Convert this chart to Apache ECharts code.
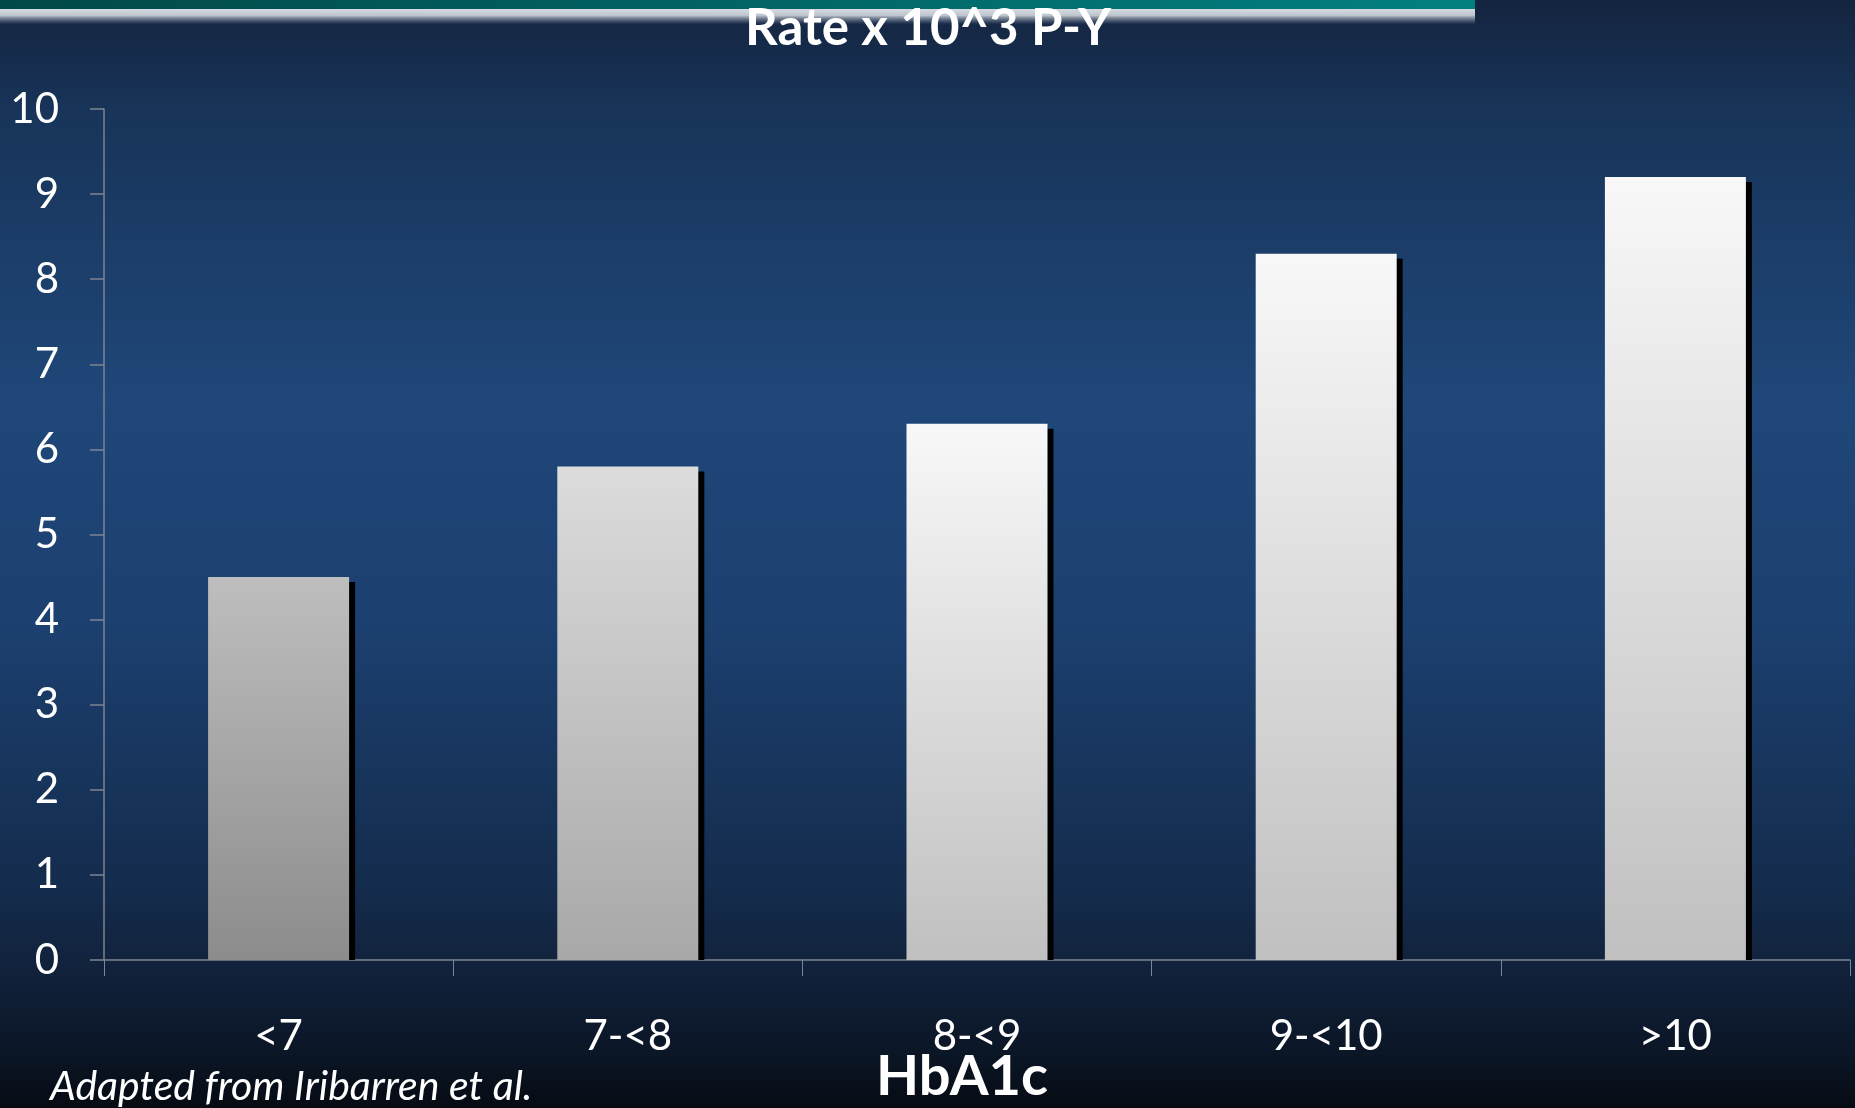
<!DOCTYPE html>
<html>
<head>
<meta charset="utf-8">
<title>Rate x 10^3 P-Y by HbA1c</title>
<script src="https://cdn.jsdelivr.net/npm/echarts@6/dist/echarts.min.js"></script>
<style>
  html, body { margin: 0; padding: 0; width: 100%; height: 100%; overflow: hidden; background: #0b1422; }
  #chart { width: 1855px; height: 1108px; }
</style>
</head>
<body>
<div id="chart"></div>
<script>
// HbA1c bands and event rate per 1000 person-years
const categories = ['<7', '7-<8', '8-<9', '9-<10', '>10'];
const rates = [4.5, 5.8, 6.3, 8.3, 9.2];
const yTicks = [0, 1, 2, 3, 4, 5, 6, 7, 8, 9, 10];

const titleText = 'Rate x 10^3 P-Y';
const axisTitleText = 'HbA1c';
const sourceText = 'Adapted from Iribarren et al.';

// per-bar fill: lighter top, darker bottom
const barTops = ['#bebebe', '#dcdcdc', '#f8f8f8', '#f8f8f8', '#f8f8f8'];
const barBottoms = ['#8c8c8c', '#a8a8a8', '#c0c0c0', '#c0c0c0', '#c0c0c0'];

const FONT = 'Lato, "Open Sans", sans-serif';
const AXIS_COLOR = '#7d8591';
const BAR_WIDTH = 141;

const chart = echarts.init(document.getElementById('chart'), null, { renderer: 'canvas' });

const barData = rates.map((v, i) => ({
  value: v,
  itemStyle: {
    color: new echarts.graphic.LinearGradient(0, 0, 0, 1, [
      { offset: 0, color: barTops[i] },
      { offset: 1, color: barBottoms[i] }
    ])
  }
}));

const option = {
  backgroundColor: new echarts.graphic.LinearGradient(0, 0, 0, 1, [
    { offset: 0.00, color: '#14243f' },
    { offset: 0.10, color: '#183459' },
    { offset: 0.36, color: '#1f4779' },
    { offset: 0.56, color: '#1c4070' },
    { offset: 0.80, color: '#142c4d' },
    { offset: 0.88, color: '#11213a' },
    { offset: 0.95, color: '#0b1626' },
    { offset: 1.00, color: '#060b13' }
  ]),
  animation: false,
  grid: { left: 104, right: 5, top: 109, bottom: 148, containLabel: false },
  xAxis: {
    type: 'category',
    data: categories,
    boundaryGap: true,
    axisLine: { show: true, lineStyle: { color: AXIS_COLOR, width: 1.5 } },
    axisTick: { show: true, length: 16, alignWithLabel: false, lineStyle: { color: AXIS_COLOR, width: 1 } },
    axisLabel: { color: '#ffffff', fontFamily: FONT, fontSize: 42, margin: 55 },
    splitLine: { show: false }
  },
  yAxis: {
    type: 'value',
    min: yTicks[0],
    max: yTicks[yTicks.length - 1],
    interval: 1,
    axisLine: { show: true, lineStyle: { color: AXIS_COLOR, width: 1.5 } },
    axisTick: { show: true, length: 14, lineStyle: { color: AXIS_COLOR, width: 1.5 } },
    axisLabel: { color: '#ffffff', fontFamily: FONT, fontSize: 42, margin: 45 },
    splitLine: { show: false }
  },
  series: [
    {
      // hard drop shadow behind each bar, stopping at the zero line
      type: 'custom',
      z: 1,
      data: rates.map((v, i) => [i, v]),
      renderItem: function (params, api) {
        const top = api.coord([api.value(0), api.value(1)]);
        const base = api.coord([api.value(0), 0]);
        const dx = 6, dy = 5;
        return {
          type: 'rect',
          shape: {
            x: top[0] - BAR_WIDTH / 2 + dx,
            y: top[1] + dy,
            width: BAR_WIDTH,
            height: base[1] - top[1] - dy
          },
          style: { fill: '#000000' }
        };
      }
    },
    {
      type: 'bar',
      z: 2,
      barWidth: BAR_WIDTH,
      data: barData
    }
  ],
  graphic: [
    {
      type: 'rect',
      z: 10,
      shape: { x: 0, y: 0, width: 1475, height: 9 },
      style: {
        fill: new echarts.graphic.LinearGradient(0, 0, 1, 0, [
          { offset: 0, color: '#024848' },
          { offset: 1, color: '#028080' }
        ])
      }
    },
    {
      type: 'rect',
      z: 10,
      shape: { x: 0, y: 9, width: 1475, height: 16 },
      style: {
        fill: new echarts.graphic.LinearGradient(0, 0, 0, 1, [
          { offset: 0.00, color: 'rgba(214,219,226,1)' },
          { offset: 0.40, color: 'rgba(200,206,214,0.95)' },
          { offset: 0.75, color: 'rgba(120,132,150,0.5)' },
          { offset: 1.00, color: 'rgba(60,80,110,0)' }
        ])
      }
    },
    {
      type: 'text',
      z: 20,
      x: 928,
      y: 29,
      style: {
        text: titleText,
        fill: '#ffffff',
        font: 'bold 51px ' + FONT,
        textAlign: 'center',
        textVerticalAlign: 'middle'
      }
    },
    {
      type: 'text',
      z: 20,
      x: 962,
      y: 1077,
      style: {
        text: axisTitleText,
        fill: '#ffffff',
        font: 'bold 56px ' + FONT,
        textAlign: 'center',
        textVerticalAlign: 'middle'
      }
    },
    {
      type: 'text',
      z: 20,
      x: 50,
      y: 1087,
      style: {
        text: sourceText,
        fill: '#ffffff',
        font: 'italic 41px ' + FONT,
        textAlign: 'left',
        textVerticalAlign: 'middle'
      }
    }
  ]
};

chart.setOption(option);
</script>
</body>
</html>
